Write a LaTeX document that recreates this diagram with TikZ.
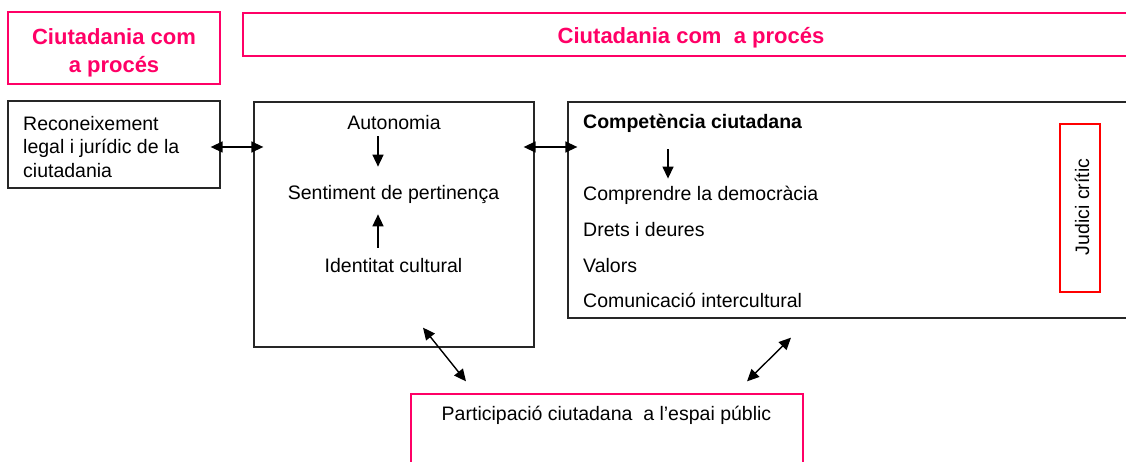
\documentclass[tikz,border=0pt]{standalone}
\usepackage{fontspec}
\setmainfont{Liberation Sans}
\usetikzlibrary{arrows.meta}
\definecolor{titlepink}{RGB}{255,0,102}

\begin{document}
\begin{tikzpicture}[x=1pt,y=-1pt, % pixel units, y runs downwards
  pinkbox/.style={draw=titlepink, line width=1.3pt, rectangle, inner sep=0pt},
  blackbox/.style={draw=black!85, line width=1.3pt, rectangle, inner sep=0pt},
  redbox/.style={draw=red, line width=1.2pt, rectangle, inner sep=0pt},
  title/.style={text=titlepink, font=\fontsize{22}{28}\selectfont\bfseries, align=center, inner sep=0pt},
  txt/.style={font=\fontsize{19.5}{23.5}\selectfont, inner sep=0pt},
  link/.style={{Triangle[length=12pt,width=11pt]}-{Triangle[length=12pt,width=11pt]}, line width=1.4pt},
  flow/.style={-{Triangle[length=12pt,width=11pt]}, line width=1.4pt}]
\clip (0,0) rectangle (1126,462);

% titles
\node[pinkbox, minimum width=212, minimum height=72] (tleft) at (114,48) {};
\node[title] (tlefttxt) at (114,53) {Ciutadania com\\a procés};
\node[pinkbox, minimum width=897, minimum height=43] (ttop) at (691.5,34.5) {};
\node[title] (ttoptxt) at (691,38) {Ciutadania com\ \ a procés};

% boxes
\node[blackbox, minimum width=212, minimum height=87] (reco) at (114,144.5) {};
\node[blackbox, minimum width=280, minimum height=245] (mid) at (394,224.5) {};
\node[blackbox, minimum width=572, minimum height=216] (comp) at (854,210) {};
\node[redbox, minimum width=40, minimum height=168] (judici) at (1080,208) {};
\node[pinkbox, minimum width=392, minimum height=86] (part) at (607,437) {};

% texts
\node[txt, anchor=west, align=left] (recotxt) at (23,147) {Reconeixement\\legal i jurídic de la\\ciutadania};
\node[txt] (auto) at (394,123) {Autonomia};
\node[txt] (sent) at (393.5,195) {Sentiment de pertinença};
\node[txt] (ident) at (393.5,266) {Identitat cultural};
\node[txt, anchor=west, font=\fontsize{19.5}{23.5}\selectfont\bfseries] (comptxt) at (583,123) {Competència ciutadana};
\node[txt, anchor=west] (demo) at (583,195) {Comprendre la democràcia};
\node[txt, anchor=west] (drets) at (583,230) {Drets i deures};
\node[txt, anchor=west] (valors) at (583,266) {Valors};
\node[txt, anchor=west] (comun) at (583,300) {Comunicació intercultural};
\node[txt, rotate=90] (judicitxt) at (1082,207) {Judici crític};
\node[txt] (parttxt) at (606.5,415.5) {Participació ciutadana\ \ a l’espai públic};

% connectors
\draw[link] ([shift={(-10,2.5)}]reco.east) -- ([shift={(10,2.5)}]reco.east -| mid.west);
\draw[link] ([shift={(-11,2.5)}]reco.east -| mid.east) -- ([shift={(10,2.5)}]reco.east -| comp.west);
\draw[flow] ([yshift=-6pt]auto.south -| 378,0) -- ([yshift=19pt]sent.north -| 378,0);
\draw[flow] ([yshift=11pt]ident.north -| 378,0) -- ([yshift=-10pt]sent.south -| 378,0);
\draw[flow] ([yshift=-17pt]comptxt.south -| 668,0) -- ([yshift=7pt]demo.north -| 668,0);
\draw[link] ([shift={(29,-20)}]mid.south) -- ([shift={(-141,-12)}]part.north);
\draw[link] ([shift={(-63,19)}]comp.south) -- ([shift={(140,-12)}]part.north);
\end{tikzpicture}
\end{document}
